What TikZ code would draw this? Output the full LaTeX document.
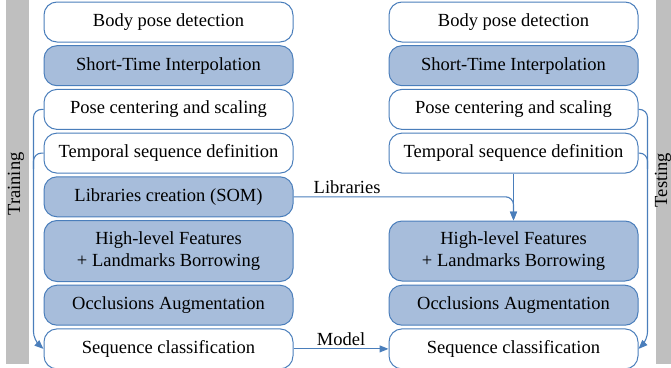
\documentclass[tikz,border=0pt]{standalone}
\usepackage{fontspec}
\setmainfont{Liberation Serif}
\usepackage{tikz}
\usetikzlibrary{positioning,arrows.meta}

\definecolor{stepline}{HTML}{4A7EBB}
\definecolor{stepfill}{HTML}{A7BDDB}
\definecolor{sidebar}{HTML}{BFBFBF}

\tikzset{
  stepbox/.style={draw=stepline, line width=1pt, rounded corners=13pt, minimum width=249pt,
    minimum height=40pt, inner sep=0pt, align=center, font=\fontsize{18.5}{22}\selectfont},
  plain/.style={stepbox, fill=white},
  shaded/.style={stepbox, fill=stepfill},
  flow/.style={draw=stepline, line width=1.1pt, rounded corners=8pt, -{Triangle[length=9pt,width=7pt]}},
  link/.style={draw=stepline, line width=1.1pt, rounded corners=8pt},
  tag/.style={font=\fontsize{18.5}{22}\selectfont, inner sep=1pt}
}

\begin{document}
\begin{tikzpicture}[node distance=2.7pt]
            \useasboundingbox (0,0) rectangle (671pt,-367pt);
            \fill [sidebar] (6pt,0) rectangle (29pt,-364pt);
            \fill [sidebar] (656pt,0) rectangle (671pt,-364pt);
            \node [tag, rotate=90] (train) at (16pt,-184pt) {Training};
            \node [tag, rotate=90, inner sep=0pt] (test) at (663pt,-180pt) {Testing};

            \node [plain] (lb1) at (168.5pt,-22pt) {Body pose detection};
            \node [shaded, below=of lb1] (lb2) {Short-Time Interpolation};
            \node [plain, below=of lb2] (lb3) {Pose centering and scaling};
            \node [plain, below=of lb3] (lb4) {Temporal sequence definition};
            \node [shaded, below=of lb4] (lb5) {Libraries creation (SOM)};
            \node [shaded, below=of lb5, minimum height=61pt] (lb6) {High-level Features\\+ Landmarks Borrowing};
            \node [shaded, below=of lb6] (lb7) {Occlusions Augmentation};
            \node [plain, below=of lb7] (lb8) {Sequence classification};

            \node [plain, right=95pt of lb1] (rb1) {Body pose detection};
            \node [shaded, below=of rb1] (rb2) {Short-Time Interpolation};
            \node [plain, below=of rb2] (rb3) {Pose centering and scaling};
            \node [plain, below=of rb3] (rb4) {Temporal sequence definition};
            \node [shaded, right=95pt of lb6, minimum height=60pt] (rb6) {High-level Features\\+ Landmarks Borrowing};
            \node [shaded, right=95pt of lb7] (rb7) {Occlusions Augmentation};
            \node [plain, right=95pt of lb8] (rb8) {Sequence classification};

            \draw [flow] (lb3.west) -| ([xshift=-10pt, yshift=9pt]lb8.west) -- (lb8.west);
            \draw [link] (lb4.west) -| ([xshift=-10pt, yshift=-16pt]lb4.west);
            \draw [flow] (rb3.east) -| ([xshift=9pt, yshift=9pt]rb8.east) -- (rb8.east);
            \draw [link] (rb4.east) -| ([xshift=9pt, yshift=-16pt]rb4.east);

            \draw [flow] (lb5.east) -| (rb6.north);
            \node [tag, anchor=south west] (lib) at ([xshift=19pt, yshift=2pt]lb5.east) {Libraries};
            \draw [flow] (rb4.south) -- (rb6.north);
            \draw [flow] (lb8.east) -- (rb8.west) node [tag, midway, above, yshift=2pt] {Model};
        \end{tikzpicture}
\end{document}
